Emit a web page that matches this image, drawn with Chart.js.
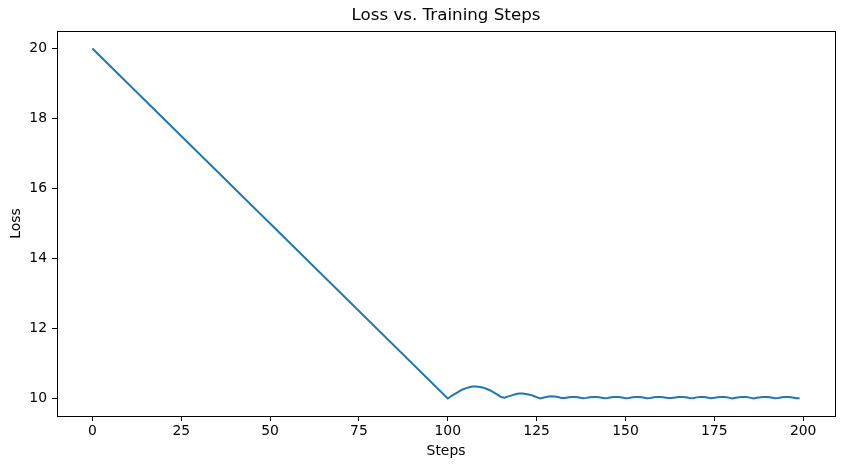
<!DOCTYPE html>
<html>
<head>
<meta charset="utf-8">
<script src="https://cdn.jsdelivr.net/npm/chart.js@4.4.1/dist/chart.umd.min.js"></script>
<style>
  html, body { margin: 0; padding: 0; background: #fff; }
  #wrap { width: 842px; height: 469px; }
</style>
</head>
<body>
<div id="wrap"><canvas id="lossChart" width="842" height="469"></canvas></div>
<script>
const steps = [0, 100,
  101, 102, 103, 104, 105, 106, 107, 108, 109, 110,
  111, 112, 113, 114, 115, 116, 117, 118, 119, 120,
  121, 122, 123, 124, 125, 126, 127, 128, 129, 130,
  131, 132, 133, 134, 135, 136, 137, 138, 139, 140,
  141, 142, 143, 144, 145, 146, 147, 148, 149, 150,
  151, 152, 153, 154, 155, 156, 157, 158, 159, 160,
  161, 162, 163, 164, 165, 166, 167, 168, 169, 170,
  171, 172, 173, 174, 175, 176, 177, 178, 179, 180,
  181, 182, 183, 184, 185, 186, 187, 188, 189, 190,
  191, 192, 193, 194, 195, 196, 197, 198, 199];

const loss = [20, 10,
  10.07, 10.13, 10.19, 10.25, 10.29, 10.32, 10.34, 10.34, 10.33, 10.31,
  10.27, 10.23, 10.17, 10.11, 10.04, 10.02, 10.06, 10.09, 10.12, 10.14,
  10.14, 10.13, 10.11, 10.08, 10.04, 10.00, 10.03, 10.05, 10.065, 10.06,
  10.043, 10.016, 10.012, 10.033, 10.044, 10.042, 10.028, 10.005, 10.018, 10.036,
  10.045, 10.042, 10.028, 10.007, 10.016, 10.035, 10.044, 10.042, 10.028, 10.007,
  10.016, 10.035, 10.044, 10.042, 10.030, 10.009, 10.014, 10.033, 10.044, 10.043,
  10.031, 10.012, 10.012, 10.031, 10.043, 10.044, 10.033, 10.014, 10.010, 10.032,
  10.044, 10.042, 10.028, 10.005, 10.019, 10.037, 10.045, 10.040, 10.025, 10.002,
  10.020, 10.038, 10.045, 10.040, 10.025, 10.002, 10.020, 10.037, 10.045, 10.041,
  10.028, 10.007, 10.016, 10.035, 10.044, 10.042, 10.028, 10.007, 10.010];

const xTicks = [0, 25, 50, 75, 100, 125, 150, 175, 200];
const yTicks = [10, 12, 14, 16, 18, 20];
const chartTitle = 'Loss vs. Training Steps';

const font = { family: 'DejaVu Sans', size: 13.9 };

// top and right spines, plus the title centred over the plot area
const frame = {
  id: 'frame',
  afterDraw(chart) {
    const a = chart.chartArea;
    const ctx = chart.ctx;
    ctx.save();
    ctx.strokeStyle = '#000';
    ctx.lineWidth = 1;
    ctx.strokeRect(Math.round(a.left) + 0.5, Math.round(a.top) + 0.5,
      Math.round(a.right - a.left), Math.round(a.bottom - a.top));
    ctx.fillStyle = '#000';
    ctx.font = '16.7px "DejaVu Sans"';
    ctx.textAlign = 'center';
    ctx.textBaseline = 'middle';
    ctx.fillText(chartTitle, (a.left + a.right) / 2, 16);
    ctx.restore();
  }
};

const ctx = document.getElementById('lossChart').getContext('2d');
new Chart(ctx, {
  type: 'line',
  data: {
    datasets: [{
      data: steps.map((s, i) => ({ x: s, y: loss[i] })),
      borderColor: '#1f77b4',
      borderWidth: 2,
      pointRadius: 0,
      tension: 0,
      fill: false
    }]
  },
  options: {
    responsive: false,
    animation: false,
    layout: { padding: { left: 0, right: 7, top: 31, bottom: 0 } },
    plugins: {
      legend: { display: false },
      tooltip: { enabled: false },
      title: { display: false }
    },
    scales: {
      x: {
        type: 'linear',
        min: -9.95,
        max: 208.95,
        afterBuildTicks: scale => { scale.ticks = xTicks.map(v => ({ value: v })); },
        afterFit: scale => { scale.height = 53; },
        grid: { drawOnChartArea: false, drawTicks: true, tickLength: 5, tickColor: '#000' },
        border: { color: '#000' },
        ticks: { color: '#000', font: font, padding: 2, maxRotation: 0 },
        title: { display: true, text: 'Steps', color: '#000', font: font, padding: { top: 9, bottom: 9 } }
      },
      y: {
        type: 'linear',
        min: 9.5,
        max: 20.5,
        afterBuildTicks: scale => { scale.ticks = yTicks.map(v => ({ value: v })); },
        afterFit: scale => { scale.width = 57; },
        grid: { drawOnChartArea: false, drawTicks: true, tickLength: 5, tickColor: '#000' },
        border: { color: '#000' },
        ticks: { color: '#000', font: font, padding: 5 },
        title: { display: true, text: 'Loss', color: '#000', font: font, padding: { top: 8, bottom: 8 } }
      }
    }
  },
  plugins: [frame]
});
</script>
</body>
</html>
